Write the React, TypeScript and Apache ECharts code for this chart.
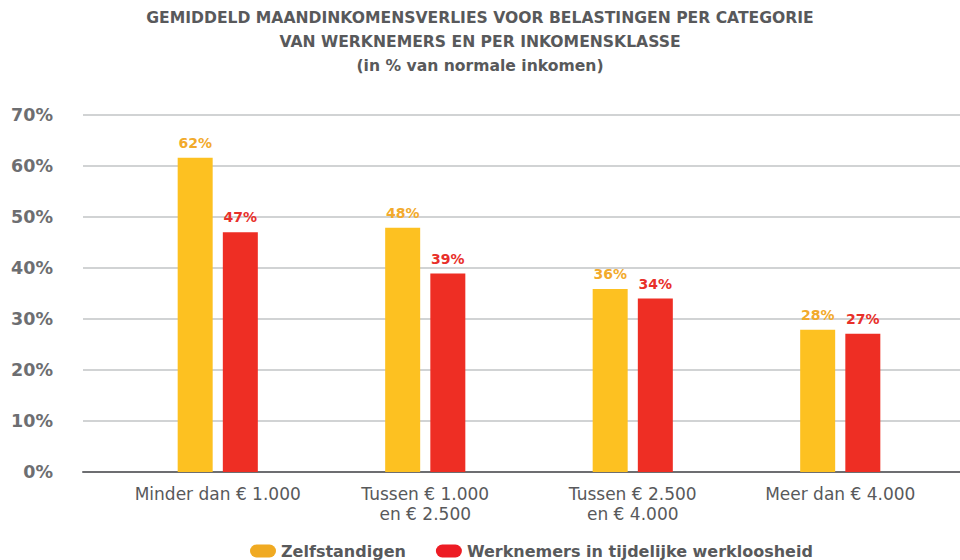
import React, { useEffect, useRef } from "react";
import * as echarts from "echarts";

const titleLines = [
  "GEMIDDELD MAANDINKOMENSVERLIES VOOR BELASTINGEN PER CATEGORIE",
  "VAN WERKNEMERS EN PER INKOMENSKLASSE",
  "(in % van normale inkomen)",
];
const categories = [
  "Minder dan € 1.000",
  "Tussen € 1.000\nen € 2.500",
  "Tussen € 2.500\nen € 4.000",
  "Meer dan € 4.000",
];
const seriesNames = ["Zelfstandigen", "Werknemers in tijdelijke werkloosheid"];
const zelfstandigen = [61.6, 47.9, 35.9, 27.9];
const werknemers = [47, 38.9, 34, 27.1];
const yTicks = [0, 10, 20, 30, 40, 50, 60, 70];

const FONT = "'DejaVu Sans', sans-serif";
const capsule =
  "path://M6.5,0 L19.5,0 A6.5,6.5 0 0 1 19.5,13 L6.5,13 A6.5,6.5 0 0 1 6.5,0 Z";

export default function App() {
  const ref = useRef<HTMLDivElement>(null);
  useEffect(() => {
    if (!ref.current) return;
    document.documentElement.style.overflow = "hidden";
    document.body.style.overflow = "hidden";
    document.body.style.margin = "0";
    const chart = echarts.init(ref.current, null, { renderer: "svg" });
    const yMin = yTicks[0];
    const yMax = yTicks[yTicks.length - 1];
    const yInt = yTicks[1] - yTicks[0];
    chart.setOption({
      animation: false,
      backgroundColor: "#ffffff",
      textStyle: { fontFamily: FONT },
      graphic: titleLines.map((t, i) => ({
        type: "text",
        x: 480,
        y: 18 + i * 24,
        style: {
          text: t,
          x: 0,
          y: 0,
          align: "center",
          verticalAlign: "middle",
          fontFamily: FONT,
          fontSize: 15.6,
          fontWeight: "bold",
          fill: "#58595B",
        },
      })),
      legend: {
        top: 538,
        left: 245,
        itemWidth: 26,
        itemHeight: 13,
        itemGap: 30,
        icon: capsule,
        textStyle: {
          fontFamily: FONT,
          fontSize: 16,
          fontWeight: "bold",
          color: "#58595B",
        },
        data: [
          { name: seriesNames[0], itemStyle: { color: "#F0AA22" } },
          { name: seriesNames[1], itemStyle: { color: "#ED1C24" } },
        ],
      },
      grid: [
        { left: 83, right: -16, top: 115, bottom: 88, containLabel: false, outerBoundsMode: "none" },
        { left: 114, right: 16, top: 115, bottom: 88, containLabel: false, outerBoundsMode: "none" },
      ],
      xAxis: [
        {
          gridIndex: 0,
          type: "value",
          min: 0,
          max: 1,
          axisLabel: { show: false },
          axisTick: { show: false },
          splitLine: { show: false },
          axisLine: { show: true, lineStyle: { color: "#6D6E71", width: 2 } },
        },
        {
          gridIndex: 1,
          type: "category",
          data: categories,
          axisLine: { show: false },
          axisTick: { show: false },
          axisLabel: {
            interval: 0,
            hideOverlap: false,
            margin: 12,
            fontFamily: FONT,
            fontSize: 17,
            color: "#58595B",
            lineHeight: 20,
          },
        },
      ],
      yAxis: [
        {
          gridIndex: 0,
          type: "value",
          min: yMin,
          max: yMax,
          interval: yInt,
          axisLine: { show: false },
          axisTick: { show: false },
          axisLabel: {
            margin: 30,
            formatter: "{value}%",
            fontFamily: FONT,
            fontSize: 17.5,
            fontWeight: "bold",
            color: "#6D6E71",
          },
          splitLine: { lineStyle: { color: "#D1D3D4", width: 2 } },
        },
        {
          gridIndex: 1,
          type: "value",
          min: yMin,
          max: yMax,
          interval: yInt,
          show: false,
          splitLine: { show: false },
        },
      ],
      series: [
        {
          name: seriesNames[0],
          type: "bar",
          xAxisIndex: 1,
          yAxisIndex: 1,
          data: zelfstandigen,
          barWidth: 35,
          barGap: "29%",
          itemStyle: { color: "#FDC121" },
          label: {
            show: true,
            position: "top",
            distance: 8,
            formatter: (p: any) => Math.round(p.value) + "%",
            fontFamily: FONT,
            fontSize: 14,
            fontWeight: "bold",
            color: "#F2AA2C",
          },
        },
        {
          name: seriesNames[1],
          type: "bar",
          xAxisIndex: 1,
          yAxisIndex: 1,
          data: werknemers,
          barWidth: 35,
          barGap: "29%",
          itemStyle: { color: "#EE2E24" },
          label: {
            show: true,
            position: "top",
            distance: 8,
            formatter: (p: any) => Math.round(p.value) + "%",
            fontFamily: FONT,
            fontSize: 14,
            fontWeight: "bold",
            color: "#E8302A",
          },
        },
      ],
    });
    return () => chart.dispose();
  }, []);
  return (
    <div
      ref={ref}
      style={{ position: "absolute", left: 0, top: 0, width: 960, height: 560 }}
    />
  );
}
